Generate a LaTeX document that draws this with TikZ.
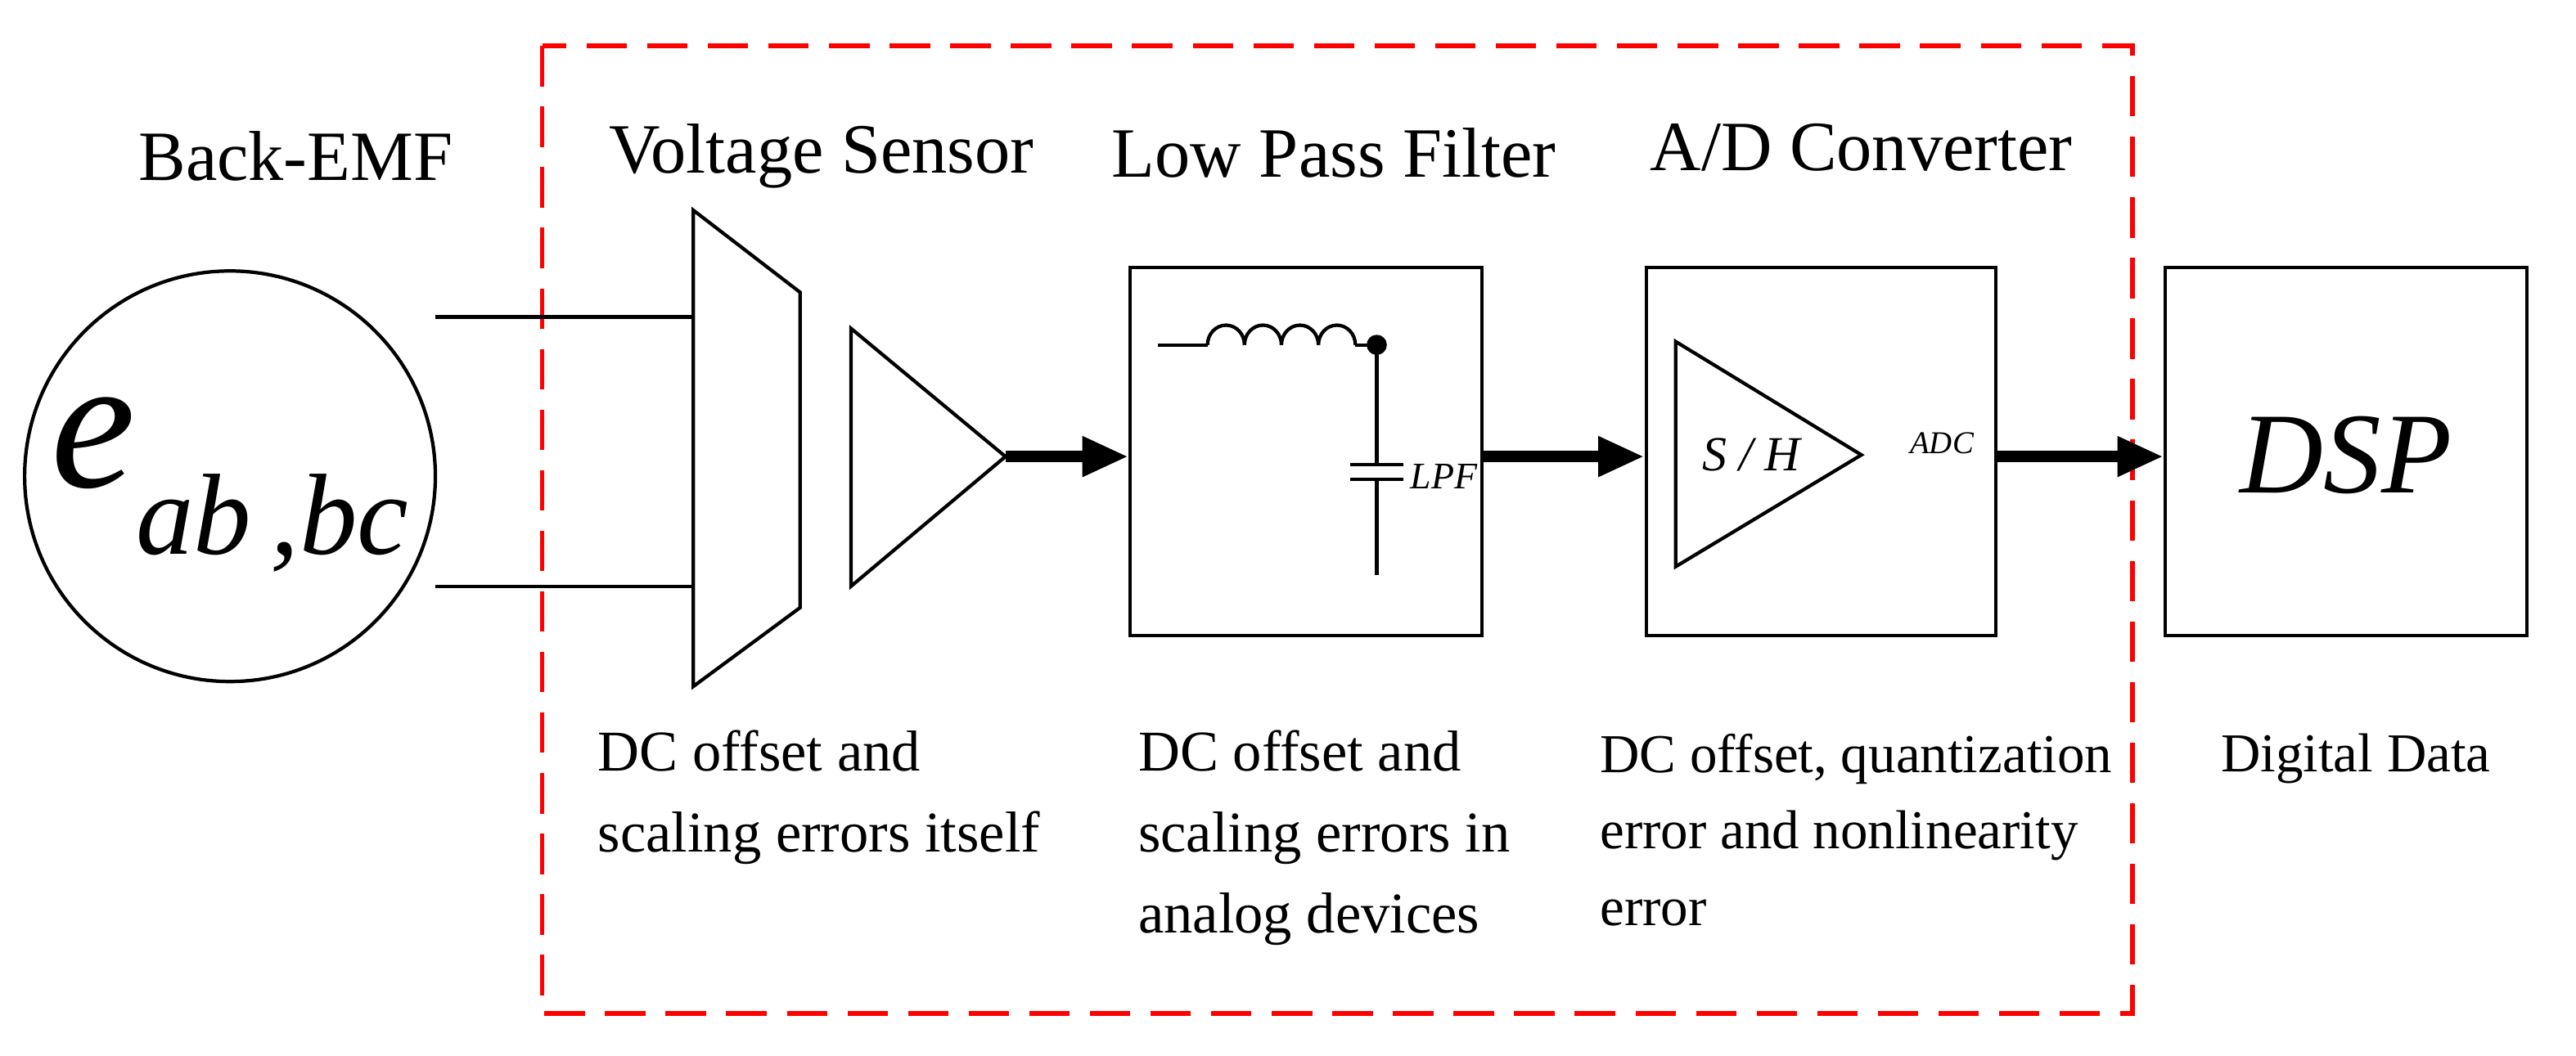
\documentclass[tikz,border=0pt]{standalone}
\usepackage{fontspec}
\setmainfont{Liberation Serif}
\usetikzlibrary{decorations.pathmorphing,arrows.meta}
\begin{document}
\begin{tikzpicture}[x=0.02cm,y=-0.02cm,line width=1.2pt,
  ttl/.style={font=\fontsize{24.5}{28}\selectfont},
  note/.style={font=\fontsize{20}{28}\selectfont,align=left,anchor=north west},
  big/.style={-{Triangle[length=16pt,width=13pt]},line width=4pt,shorten >=0pt}]
\useasboundingbox (0,0) rectangle (1568,643);
\draw[red,dashed,dash pattern=on 14pt off 7pt,line width=1.6pt] (330,28) rectangle (1298,617);
\node[circle,draw,minimum size=250*0.02cm,inner sep=0] (emf) at (140,290) {};
\node at (140,295) {\fontsize{66}{70}\selectfont\itshape e\raisebox{-0.35em}{\fontsize{40}{44}\selectfont ab\,,bc}};
\node[ttl] (t1) at (180,95) {Back-EMF};
\node[ttl] (t2) at (500,95) {Voltage Sensor};
\node[ttl] (t3) at (812,93) {Low Pass Filter};
\node[ttl] (t4) at (1133,90) {A/D Converter};
\draw (422,128) -- (487,178) -- (487,370) -- (422,418) -- cycle;
\coordinate (m1) at (422,193); \coordinate (m2) at (422,357);
\draw (265,193) -- (m1); \draw (265,357) -- (m2);
\draw (518,200) -- (612,278) -- (518,357) -- cycle;
\coordinate (amp) at (612,278);
\node[draw,minimum width=214*0.02cm,minimum height=224*0.02cm] (lpf) at (795,275) {};
\node[draw,minimum width=213*0.02cm,minimum height=224*0.02cm] (adc) at (1108.5,275) {};
\node[draw,minimum width=220*0.02cm,minimum height=224*0.02cm] (dsp) at (1428,275) {};
\draw[big] (amp) -- (lpf.west|-amp);
\draw[big] (lpf.east|-amp) -- (adc.west|-amp);
\draw[big] (adc.east|-amp) -- (dsp.west|-amp);
% LPF circuit
\draw (705,210) -- (735,210);
\foreach \i in {0,1,2,3} \draw (735+22.5*\i,210) arc[start angle=180,end angle=360,x radius=11.25,y radius=12];
\draw (825,210) -- (838,210);
\fill (838,210) circle (3.5pt);
\draw (838,210) -- (838,283) (822,283) -- (854,283) (822,292) -- (854,292) (838,292) -- (838,350);
\node[font=\fontsize{13}{16}\selectfont\itshape] at (879,290) {LPF};
% ADC
\draw (1020,208) -- (1133,277) -- (1020,345) -- cycle;
\node[font=\fontsize{17}{20}\selectfont\itshape] at (1066,277) {S / H};
\node[font=\fontsize{11}{13}\selectfont\itshape] at (1182,270) {ADC};
\node[font=\fontsize{40}{44}\selectfont\itshape] at (1428,277) {DSP};
% notes
\node[note] at (357,438) {DC offset and\\scaling errors itself};
\node[note] at (686,438) {DC offset and\\scaling errors in\\analog devices};
\node[note,font=\fontsize{19}{26.5}\selectfont] at (967,440) {DC offset, quantization\\error and nonlinearity\\error};
\node[note,font=\fontsize{19}{26}\selectfont] at (1345,440) {Digital Data};
\end{tikzpicture}
\end{document}
